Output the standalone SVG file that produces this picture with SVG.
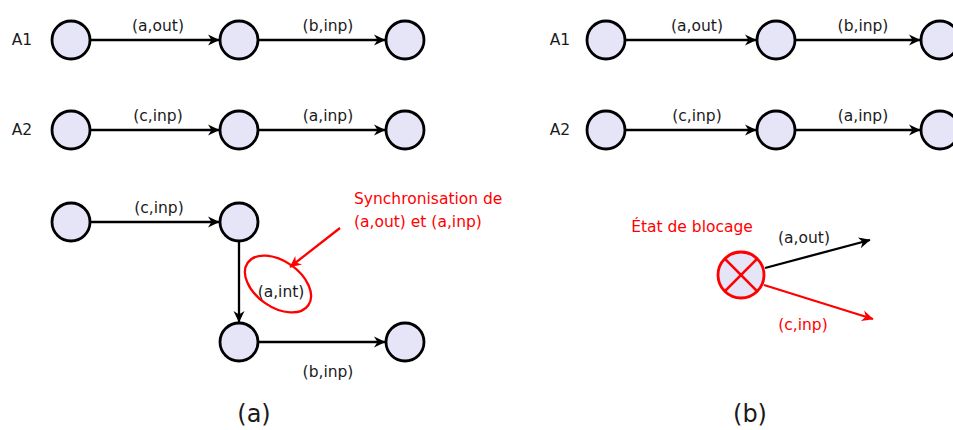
<svg xmlns="http://www.w3.org/2000/svg" width="953" height="430" viewBox="0 0 953 430">
<style>
.n{fill:#e5e5f7;stroke:#000;stroke-width:2.8}
.e{stroke:#000;stroke-width:2.3;fill:none}
.r{stroke:#f00;stroke-width:2.3;fill:none}
text{font-family:"DejaVu Sans",sans-serif;font-size:15.5px;fill:#1a1a1a}
.c{text-anchor:middle}
.red{fill:#f00}
.big{font-size:24px}
</style>
<defs>
<marker id="ah" markerUnits="userSpaceOnUse" markerWidth="14" markerHeight="14" refX="12" refY="7" orient="auto"><path d="M12.5,7 L1,1.5 L4.5,7 L1,12.5 Z" fill="#000"/></marker>
<marker id="ahr" markerUnits="userSpaceOnUse" markerWidth="14" markerHeight="14" refX="12" refY="7" orient="auto"><path d="M12.5,7 L1,1.5 L4.5,7 L1,12.5 Z" fill="#f00"/></marker>
</defs>
<g id="connectors">
<line class="e" x1="91" y1="40" x2="219" y2="40" marker-end="url(#ah)"/>
<line class="e" x1="259" y1="40" x2="385" y2="40" marker-end="url(#ah)"/>
<line class="e" x1="91" y1="130" x2="219" y2="130" marker-end="url(#ah)"/>
<line class="e" x1="259" y1="130" x2="385" y2="130" marker-end="url(#ah)"/>
<line class="e" x1="91" y1="222" x2="219" y2="222" marker-end="url(#ah)"/>
<line class="e" x1="239" y1="242" x2="239" y2="322" marker-end="url(#ah)"/>
<line class="e" x1="259" y1="342" x2="385" y2="342" marker-end="url(#ah)"/>
<line class="r" x1="340" y1="228" x2="290" y2="267" marker-end="url(#ahr)"/>
<line class="e" x1="626" y1="40" x2="756" y2="40" marker-end="url(#ah)"/>
<line class="e" x1="796" y1="40" x2="920" y2="40" marker-end="url(#ah)"/>
<line class="e" x1="626" y1="130" x2="756" y2="130" marker-end="url(#ah)"/>
<line class="e" x1="796" y1="130" x2="920" y2="130" marker-end="url(#ah)"/>
<line class="e" x1="765" y1="268" x2="870" y2="240" marker-end="url(#ah)"/>
<line class="r" x1="764" y1="285" x2="873" y2="319" marker-end="url(#ahr)"/>
</g>
<g id="labels">
<text x="22" y="45" class="c">A1</text>
<text x="22" y="135" class="c">A2</text>
<text x="158" y="31" class="c">(a,out)</text>
<text x="328" y="31" class="c">(b,inp)</text>
<text x="158" y="121" class="c">(c,inp)</text>
<text x="328" y="121" class="c">(a,inp)</text>
<text x="159" y="213" class="c">(c,inp)</text>
<text x="281" y="297" class="c">(a,int)</text>
<text x="328" y="377" class="c">(b,inp)</text>
<text x="354" y="204" class="red">Synchronisation de</text>
<text x="354" y="227" class="red">(a,out) et (a,inp)</text>
<text x="254" y="422" class="c big">(a)</text>
<text x="560" y="45" class="c">A1</text>
<text x="560" y="135" class="c">A2</text>
<text x="697" y="31" class="c">(a,out)</text>
<text x="863" y="31" class="c">(b,inp)</text>
<text x="697" y="121" class="c">(c,inp)</text>
<text x="863" y="121" class="c">(a,inp)</text>
<text x="692" y="232" class="c red">État de blocage</text>
<text x="804" y="243" class="c">(a,out)</text>
<text x="803" y="330" class="c red">(c,inp)</text>
<text x="750" y="422" class="c big">(b)</text>
</g>
<g id="sync"><ellipse cx="278" cy="284" rx="37" ry="23" transform="rotate(35 278 284)" class="r" stroke-width="2.6"/></g>
<g id="a1n1"><circle class="n" cx="71" cy="40" r="19"/></g>
<g id="a1n2"><circle class="n" cx="239" cy="40" r="19"/></g>
<g id="a1n3"><circle class="n" cx="405" cy="40" r="19"/></g>
<g id="a2n1"><circle class="n" cx="71" cy="130" r="19"/></g>
<g id="a2n2"><circle class="n" cx="239" cy="130" r="19"/></g>
<g id="a2n3"><circle class="n" cx="405" cy="130" r="19"/></g>
<g id="pn1"><circle class="n" cx="71" cy="222" r="19"/></g>
<g id="pn2"><circle class="n" cx="239" cy="222" r="19"/></g>
<g id="pn3"><circle class="n" cx="239" cy="342" r="19"/></g>
<g id="pn4"><circle class="n" cx="405" cy="342" r="19"/></g>
<g id="b1n1"><circle class="n" cx="606" cy="40" r="19"/></g>
<g id="b1n2"><circle class="n" cx="776" cy="40" r="19"/></g>
<g id="b1n3"><circle class="n" cx="940" cy="40" r="19"/></g>
<g id="b2n1"><circle class="n" cx="606" cy="130" r="19"/></g>
<g id="b2n2"><circle class="n" cx="776" cy="130" r="19"/></g>
<g id="b2n3"><circle class="n" cx="940" cy="130" r="19"/></g>
<g id="block"><circle cx="741" cy="275" r="23" fill="#e5e5f7" stroke="#f00" stroke-width="2.8"/><path d="M724.7,258.7 L757.3,291.3 M757.3,258.7 L724.7,291.3" stroke="#f00" stroke-width="2.6"/></g>
</svg>
